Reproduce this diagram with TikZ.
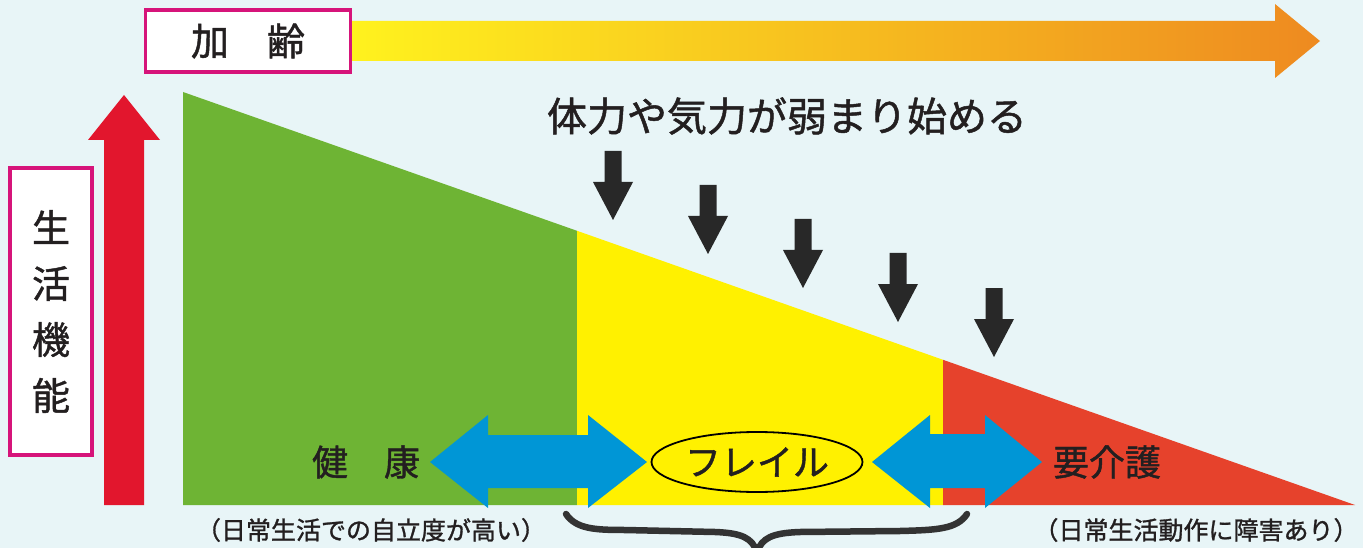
\documentclass[tikz,border=0pt]{standalone}
\usepackage{fontspec}
\newfontfamily\jp[FakeBold=1.2]{Noto Sans CJK JP}
\usetikzlibrary{shapes.geometric}
\definecolor{bg}{RGB}{232,245,247}
\definecolor{pinkb}{RGB}{214,20,122}
\definecolor{redar}{RGB}{226,22,45}
\definecolor{greenz}{RGB}{110,180,52}
\definecolor{yellowz}{RGB}{255,241,0}
\definecolor{redz}{RGB}{230,66,44}
\definecolor{bluear}{RGB}{0,150,214}
\definecolor{darkar}{RGB}{40,40,40}
\definecolor{ageY}{RGB}{255,242,30}
\definecolor{ageO}{RGB}{238,138,32}
\definecolor{txt}{RGB}{35,31,32}
\tikzset{
  labelbox/.style={draw=pinkb, line width=3.5pt, fill=white, inner sep=0pt, text=txt},
  bigtext/.style={font=\jp\fontsize{36pt}{40pt}\selectfont, text=txt, inner sep=0pt},
  smalltext/.style={font=\jp\fontsize{25pt}{28pt}\selectfont, text=txt, inner sep=0pt},
  downarrow/.style={fill=darkar},
  fatblue/.style={fill=bluear},
}
\begin{document}
\begin{tikzpicture}[x=1pt,y=-1pt]
\fill[bg] (0,0) rectangle (1363,548);
\useasboundingbox (0,0) rectangle (1363,548);

% zones
\fill[greenz] (183,92) -- (577,230.8) -- (577,505) -- (183,505) -- cycle;
\fill[yellowz] (577,230.8) -- (943,359.8) -- (943,505) -- (577,505) -- cycle;
\fill[redz] (943,359.8) -- (1355,505) -- (943,505) -- cycle;

% ageing arrow
\shade[left color=ageY, right color=ageO] (352,21) -- (1275,21) -- (1275,4) -- (1320,41) -- (1275,78) -- (1275,61) -- (352,61) -- cycle;
\node[labelbox, minimum width=205pt, minimum height=62pt, font=\jp\fontsize{38pt}{40pt}\selectfont] (age) at (248,41) {加　齢};

% life function arrow
\fill[redar] (104,505) -- (104,140) -- (88,140) -- (124,95) -- (160,140) -- (144,140) -- (144,505) -- cycle;
\node[labelbox, minimum width=82pt, minimum height=287pt, align=center, font=\jp\fontsize{38pt}{56pt}\selectfont] (life) at (51,311.5) {生\\活\\機\\能};

% heading
\node[bigtext, font=\jp\fontsize{40pt}{44pt}\selectfont] (weak) at (787,116) {体力や気力が弱まり始める};

% down arrows
\foreach \x/\t in {613/151, 708/185, 803/219, 898/253, 994/288}{
  \fill[downarrow] (\x-8.5,\t) -- (\x+8.5,\t) -- (\x+8.5,\t+31) -- (\x+20,\t+31) -- (\x,\t+69) -- (\x-20,\t+31) -- (\x-8.5,\t+31) -- cycle;
}

% blue double arrows
\fill[fatblue] (430,462) -- (488,415) -- (488,435) -- (588,435) -- (588,415) -- (647,462) -- (588,508) -- (588,488) -- (488,488) -- (488,508) -- cycle;
\fill[fatblue] (872,462) -- (930,415) -- (930,434) -- (985,434) -- (985,415) -- (1042,462) -- (985,508) -- (985,488) -- (930,488) -- (930,508) -- cycle;

% stage labels
\node[bigtext] (health) at (366,462) {健　康};
\node[bigtext, ellipse, draw=black, line width=1.8pt, minimum width=211pt, minimum height=60pt] (frail) at (757,462) {フレイル};
\node[bigtext] (care) at (1107,462) {要介護};

\node[smalltext] (hnote) at (371,530) {（日常生活での自立度が高い）};
\node[smalltext] (cnote) at (1196,530) {（日常生活動作に障害あり）};

% brace
\draw[line width=6.5pt, color=darkar!95, line cap=round]
  (566,514) .. controls (576,529) and (595,530) .. (625,530) -- (715,532)
  .. controls (742,533) and (752,538) .. (757,552);
\draw[line width=6.5pt, color=darkar!95, line cap=round]
  (967,514) .. controls (957,529) and (938,530) .. (900,531) -- (800,532)
  .. controls (772,533) and (762,538) .. (757,552);
\end{tikzpicture}
\end{document}
